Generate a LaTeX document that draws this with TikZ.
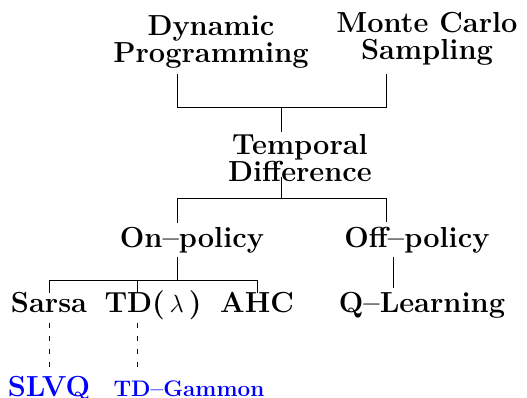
\documentclass[tikz,border=0pt]{standalone}
\usepackage{fontspec}
\begin{document}
\begin{tikzpicture}[x=1pt,y=1pt,
  lbl/.style={font=\fontsize{29}{27}\selectfont\bfseries, align=center, anchor=base, inner sep=0pt},
  app/.style={lbl, text=blue},
  small/.style={font=\fontsize{22.5}{22.5}\selectfont\bfseries},
  link/.style={line width=0.8pt},
  weak/.style={line width=0.8pt, dash pattern=on 5pt off 8pt}]
\useasboundingbox (0,0) rectangle (527,398);

% method families (base anchor = baseline of the last line)
\node[lbl] (dp)  at (211,335) {Dynamic\\Programming};
\node[lbl] (mc)  at (427,338) {Monte Carlo\\Sampling};
\node[lbl] (td)  at (300,216) {Temporal\\Difference};
\node[lbl] (on)  at (192,150) {On--policy};
\node[lbl] (off) at (417,150) {Off--policy};
\node[lbl] (sarsa) at (49,85)  {Sarsa};
\node[lbl] (tdl)   at (153,85) {TD(\,$\lambda$\,)};
\node[lbl] (ahc)   at (257,85) {AHC};
\node[lbl] (ql)    at (422,85) {Q--Learning};
% applications
\node[app] (slvq) at (49,1)  {SLVQ};
\node[app,small] (tdg) at (189,1) {TD--Gammon};

% junction points of the tree
\coordinate (dpL) at (177,324);
\coordinate (mcR) at (386,324);
\coordinate (j1L) at (177,291);
\coordinate (j1R) at (386,291);
\coordinate (j1)  at (281,291);
\coordinate (tdT) at (281,266);
\coordinate (tdB) at (281,221);
\coordinate (j2)  at (281,200);
\coordinate (j2L) at (177,200);
\coordinate (j2R) at (386,200);
\coordinate (onT) at (177,175);
\coordinate (offT) at (386,176);
\coordinate (onB) at (177,141);
\coordinate (j3)  at (177,118);
\coordinate (j3L) at (49,118);
\coordinate (j3M) at (137,118);
\coordinate (j3R) at (257,118);
\coordinate (saT) at (49,105);
\coordinate (tlT) at (137,105);
\coordinate (ahT) at (257,105);
\coordinate (offB) at (393,141);
\coordinate (qlT) at (393,110);
\coordinate (saB) at (49,75);
\coordinate (slT) at (49,30);
\coordinate (tlB) at (137,75);
\coordinate (tgT) at (137,30);

\draw[link] (dpL) -- (j1L) -- (j1R) -- (mcR);
\draw[link] (j1) -- (tdT);
\draw[link] (tdB) -- (j2);
\draw[link] (onT) -- (j2L) -- (j2R) -- (offT);
\draw[link] (onB) -- (j3);
\draw[link] (saT) -- (j3L) -- (j3R) -- (ahT);
\draw[link] (j3M) -- (tlT);
\draw[link] (offB) -- (qlT);
\draw[weak] (saB) -- (slT);
\draw[weak] (tlB) -- (tgT);
\end{tikzpicture}
\end{document}
